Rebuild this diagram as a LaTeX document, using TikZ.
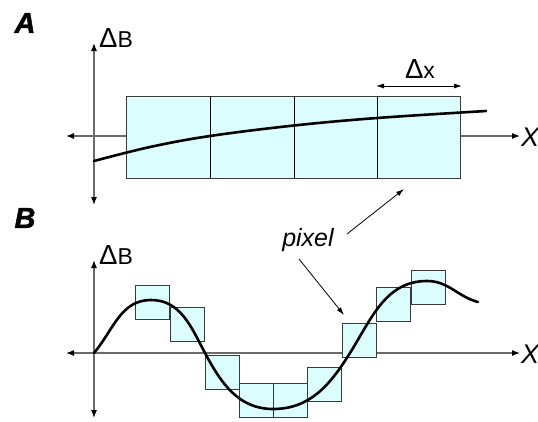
\documentclass[tikz,border=0pt]{standalone}
\usepackage{fontspec}
\setmainfont{Liberation Sans}
\newfontfamily\panelfont{Liberation Sans}[BoldItalicFeatures={FakeBold=1.6}]
\usetikzlibrary{arrows.meta}
\definecolor{pixfill}{HTML}{DCFDFD}
\definecolor{axisgray}{HTML}{6A6A6A}
\definecolor{edgegray}{HTML}{3A3A3A}
\newcommand{\bigDelta}{\scalebox{1.2}[1.2]{Δ}}
\tikzset{
  axis/.style={draw=axisgray, line width=1.1pt, {Latex[length=8pt,width=6pt,black]}-{Latex[length=8pt,width=6pt,black]}},
  pixbox/.style={draw=edgegray, fill=pixfill, line width=0.9pt},
  curve/.style={line width=2.6pt, black, line cap=round},
  panel/.style={font=\panelfont\fontsize{29}{29}\selectfont\bfseries\itshape, inner sep=0pt},
  axlabel/.style={font=\fontsize{23}{23}\selectfont, inner sep=0pt},
  xlabel/.style={font=\fontsize{27}{27}\selectfont\itshape, inner sep=0pt, anchor=west},
  pointer/.style={line width=0.8pt, -{Latex[length=8pt,width=5pt]}}
}
\begin{document}
\begin{tikzpicture}[x=1pt,y=-1pt]
\useasboundingbox (0,0) rectangle (538,421);
% ---------- Panel A ----------
\node[panel] (A) at (25,23) {A};
\coordinate (aL) at (66,136);
\coordinate (aR) at (520,136);
\draw[axis] (aL) -- (aR);
\node[xlabel] (XA) at (521,137) {X};
% cells
\draw[pixbox] (126,96) rectangle (460,178);
\draw[draw=black, line width=0.9pt] (210,96) -- (210,178) (294,96) -- (294,178) (377,96) -- (377,178);
\coordinate (aT) at (94,43);
\coordinate (aB) at (94,205);
\draw[axis] (aB) -- (aT);
\node[axlabel, anchor=base west] (dBA) at (99,47) {\bigDelta B};
\draw[curve] plot[smooth, tension=0.6] coordinates {(94,161) (150,147) (210,136) (294,125.5) (377,118) (486,111)};
% delta x
\coordinate (dx1) at (376,86);
\coordinate (dx2) at (462,86);
\draw[line width=0.8pt, {Latex[length=8pt,width=5pt]}-{Latex[length=8pt,width=5pt]}] (dx1) -- (dx2);
\node[axlabel, anchor=base] (dxl) at (420,78) {\bigDelta x};
% pixel label and pointers
\node[font=\fontsize{25}{25}\selectfont\itshape, inner sep=0pt, anchor=base] (pix) at (308,246) {pixel};
\coordinate (p1s) at (347,234);
\coordinate (p1e) at (404,189);
\coordinate (p2s) at (299,259);
\coordinate (p2e) at (344,315);
\draw[pointer] (p1s) -- (p1e);
\draw[pointer] (p2s) -- (p2e);
% ---------- Panel B ----------
\node[panel] (B) at (25,218) {B};
\coordinate (bL) at (66,353);
\coordinate (bR) at (520,353);
\draw[axis] (bL) -- (bR);
\node[xlabel] (XB) at (521,354) {X};
\coordinate (bT) at (94,260);
\coordinate (bB) at (94,418);
\draw[axis] (bB) -- (bT);
\node[axlabel, anchor=base west] (dBB) at (99,264) {\bigDelta B};
\foreach \x/\y [count=\i] in {135/285, 170/307, 205/355, 239/383, 273/383, 307/367, 342/323, 376/287, 411/270}{
  \draw[pixbox] (\x,\y) rectangle ++(34,34);
}
\draw[curve] (94,353) to[out=50,in=180] (151,300)
  to[out=0,in=118] (205,353)
  to[out=-62,in=180] (273,409)
  to[out=0,in=-122] (350,353)
  to[out=58,in=180] (427,281)
  to[out=0,in=165] (478,302);
\end{tikzpicture}
\end{document}
